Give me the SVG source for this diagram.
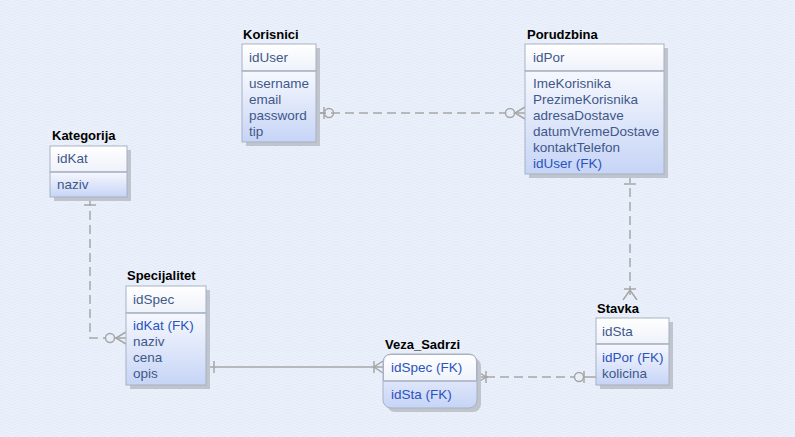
<svg xmlns="http://www.w3.org/2000/svg" width="795" height="437" viewBox="0 0 795 437">
<defs>
<linearGradient id="hdr" x1="0" y1="0" x2="0" y2="1"><stop offset="0" stop-color="#ffffff"/><stop offset="1" stop-color="#eef2fa"/></linearGradient>
<linearGradient id="bdy" x1="0" y1="0" x2="0" y2="1"><stop offset="0" stop-color="#f6f8fe"/><stop offset="1" stop-color="#c6d4f6"/></linearGradient>
<pattern id="bg" width="12" height="6" patternUnits="userSpaceOnUse"><rect width="12" height="6" fill="#ebf1fb"/><path d="M0 3 L6 0 L12 3 M0 6 L6 3 L12 6" stroke="#e3ebf7" stroke-width="1" fill="none"/></pattern>
</defs>
<style>
.title{font-family:"Liberation Sans",Arial,sans-serif;font-weight:bold;font-size:13px;fill:#000}
.it{font-family:"Liberation Sans",Arial,sans-serif;font-size:13.5px;fill:#3f5889}
.fk{fill:#2a53bd}
.shadow{fill:#c0c4cc}
.hdr{fill:url(#hdr);stroke:#a8b1c3;stroke-width:1}
.bdy{fill:url(#bdy);stroke:#a8b1c3;stroke-width:1}
.div{stroke:#b0b8c8;stroke-width:1.5}
.c{stroke:#a6a6a6;stroke-width:1.5;fill:none}
.d{stroke-dasharray:9 5}
</style>
<rect width="795" height="437" fill="url(#bg)"/>

<g id="connectors">
<!-- Korisnici - Porudzbina -->
<line class="c d" x1="317" y1="113" x2="505" y2="113"/>
<line class="c" x1="317" y1="113" x2="325" y2="113"/>
<line class="c" x1="324" y1="107" x2="324" y2="119"/>
<circle class="c" cx="329" cy="113" r="4.5"/>
<circle class="c" cx="510" cy="113" r="4.5"/>
<line class="c" x1="514" y1="113" x2="525" y2="113"/>
<path class="c" d="M525 107 L515 113 L525 119"/>
<!-- Porudzbina - Stavka -->
<line class="c d" x1="630" y1="174" x2="630" y2="300"/>
<line class="c" x1="624" y1="184" x2="636" y2="184"/>
<line class="c" x1="624" y1="289" x2="636" y2="289"/>
<path class="c" d="M623 300 L630 290 L637 300"/>
<!-- Kategorija - Specijalitet -->
<path class="c d" d="M90 197 L90 338 L106 338"/>
<line class="c" x1="84" y1="205" x2="96" y2="205"/>
<circle class="c" cx="110" cy="338" r="4.5"/>
<line class="c" x1="114" y1="338" x2="126" y2="338"/>
<path class="c" d="M126 332 L116 338 L126 344"/>
<!-- Specijalitet - Veza_Sadrzi -->
<line class="c" x1="206" y1="367" x2="383" y2="367"/>
<line class="c" x1="214" y1="361" x2="214" y2="373"/>
<line class="c" x1="374" y1="361" x2="374" y2="373"/>
<path class="c" d="M383 361 L374 367 L383 373"/>
<!-- Veza_Sadrzi - Stavka -->
<line class="c d" x1="486" y1="377" x2="574" y2="377"/>
<line class="c" x1="477" y1="377" x2="488" y2="377"/>
<path class="c" d="M477 371 L486 377 L477 383"/>
<line class="c" x1="486" y1="371" x2="486" y2="383"/>
<circle class="c" cx="579" cy="377" r="4.5"/>
<line class="c" x1="583" y1="377" x2="596" y2="377"/>
<line class="c" x1="584" y1="371" x2="584" y2="383"/>
</g>

<g id="Korisnici">
<text class="title" x="243" y="39">Korisnici</text>
<rect class="shadow" x="246" y="48" width="74" height="98"/>
<rect class="hdr" x="242" y="44" width="74" height="27"/>
<rect class="bdy" x="242" y="71" width="74" height="71"/>
<line class="div" x1="242" y1="71" x2="316" y2="71"/>
<text class="it" x="249" y="62">idUser</text>
<text class="it" x="249" y="88">username</text>
<text class="it" x="249" y="104">email</text>
<text class="it" x="249" y="120">password</text>
<text class="it" x="249" y="136">tip</text>
</g>

<g id="Porudzbina">
<text class="title" x="527" y="39">Porudzbina</text>
<rect class="shadow" x="529" y="48" width="139" height="130"/>
<rect class="hdr" x="525" y="44" width="139" height="27"/>
<rect class="bdy" x="525" y="71" width="139" height="103"/>
<line class="div" x1="525" y1="71" x2="664" y2="71"/>
<text class="it" x="533" y="62">idPor</text>
<text class="it" x="533" y="88">ImeKorisnika</text>
<text class="it" x="533" y="104">PrezimeKorisnika</text>
<text class="it" x="533" y="120">adresaDostave</text>
<text class="it" x="533" y="136">datumVremeDostave</text>
<text class="it" x="533" y="152">kontaktTelefon</text>
<text class="it fk" x="533" y="168">idUser (FK)</text>
</g>

<g id="Kategorija">
<text class="title" x="52" y="140">Kategorija</text>
<rect class="shadow" x="54" y="150" width="77" height="51"/>
<rect class="hdr" x="50" y="146" width="77" height="26"/>
<rect class="bdy" x="50" y="172" width="77" height="25"/>
<line class="div" x1="50" y1="172" x2="127" y2="172"/>
<text class="it" x="57" y="163">idKat</text>
<text class="it" x="57" y="189">naziv</text>
</g>

<g id="Specijalitet">
<text class="title" x="127" y="280">Specijalitet</text>
<rect class="shadow" x="130" y="290" width="80" height="99"/>
<rect class="hdr" x="126" y="286" width="80" height="27"/>
<rect class="bdy" x="126" y="313" width="80" height="72"/>
<line class="div" x1="126" y1="313" x2="206" y2="313"/>
<text class="it" x="133" y="304">idSpec</text>
<text class="it fk" x="133" y="330">idKat (FK)</text>
<text class="it" x="133" y="346">naziv</text>
<text class="it" x="133" y="362">cena</text>
<text class="it" x="133" y="378">opis</text>
</g>

<g id="Veza_Sadrzi">
<text class="title" x="385" y="349">Veza_Sadrzi</text>
<rect class="shadow" x="387" y="358" width="94" height="54" rx="8"/>
<rect class="bdy" x="383" y="354" width="94" height="54" rx="8"/>
<path d="M383.5 381 L383.5 362 Q383.5 354.5 391 354.5 L469 354.5 Q476.5 354.5 476.5 362 L476.5 381 Z" fill="url(#hdr)" stroke="#a8b1c3"/>
<line class="div" x1="383" y1="381" x2="477" y2="381"/>
<text class="it fk" x="391" y="372">idSpec (FK)</text>
<text class="it fk" x="391" y="399">idSta (FK)</text>
</g>

<g id="Stavka">
<text class="title" x="597" y="313">Stavka</text>
<rect class="shadow" x="600" y="322" width="73" height="67"/>
<rect class="hdr" x="596" y="318" width="73" height="26"/>
<rect class="bdy" x="596" y="344" width="73" height="41"/>
<line class="div" x1="596" y1="344" x2="669" y2="344"/>
<text class="it" x="602" y="336">idSta</text>
<text class="it fk" x="602" y="362">idPor (FK)</text>
<text class="it" x="602" y="378">kolicina</text>
</g>
</svg>
